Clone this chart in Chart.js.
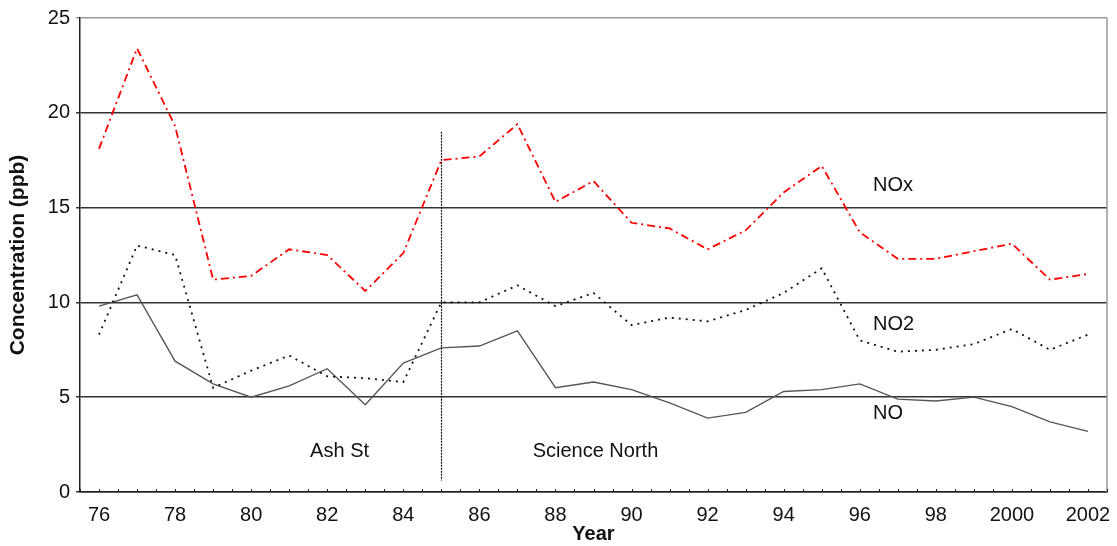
<!DOCTYPE html>
<html>
<head>
<meta charset="utf-8">
<script src="https://cdn.jsdelivr.net/npm/chart.js@4"></script>
<style>
  html, body { margin: 0; padding: 0; background: #fff; }
  #wrap { width: 1117px; height: 546px; }
</style>
</head>
<body>
<div id="wrap"><canvas id="chart" width="1117" height="546"></canvas></div>
<script>
// ===== NOx / NO2 / NO annual means =====
const years = ["76","77","78","79","80","81","82","83","84","85","86","87","88","89",
  "90","91","92","93","94","95","96","97","98","99","2000","2001","2002"];

const noxValues = [18.1, 23.4, 19.3, 11.2, 11.4, 12.8, 12.5, 10.6, 12.6, 17.5, 17.7, 19.4, 15.3, 16.4,
  14.2, 13.9, 12.8, 13.8, 15.8, 17.2, 13.7, 12.3, 12.3, 12.7, 13.1, 11.2, 11.5];
const no2Values = [8.3, 13.0, 12.5, 5.5, 6.4, 7.2, 6.1, 6.0, 5.8, 10.0, 10.0, 10.9, 9.8, 10.5,
  8.8, 9.2, 9.0, 9.6, 10.5, 11.8, 8.0, 7.4, 7.5, 7.8, 8.6, 7.5, 8.3];
const noValues = [9.8, 10.4, 6.9, 5.7, 5.0, 5.6, 6.5, 4.6, 6.8, 7.6, 7.7, 8.5, 5.5, 5.8,
  5.4, 4.7, 3.9, 4.2, 5.3, 5.4, 5.7, 4.9, 4.8, 5.0, 4.5, 3.7, 3.2];

// text labels placed in data coordinates (x = category index)
const noteTexts = ["NOx", "NO2", "NO", "Ash St", "Science North"];
const noteX = [20.35, 20.35, 20.35, 5.55, 11.4];
const noteY = [16.15, 8.85, 4.15, 2.15, 2.15];

// station change marker (Ash St -> Science North)
const stationChangeIndex = 9;
const stationLineTop = 19.0;
const stationLineBottom = 0.6;

const FONT = "'Liberation Sans', Arial, sans-serif";

// extra drawing: right frame, small inward x ticks, station line, labels
const extrasPlugin = {
  id: "extras",
  afterDatasetsDraw(chart) {
    const { ctx, chartArea: a, scales: { x, y } } = chart;
    ctx.save();

    // right border
    ctx.strokeStyle = "#999";
    ctx.lineWidth = 1.5;
    ctx.beginPath();
    ctx.moveTo(a.right, a.top);
    ctx.lineTo(a.right, a.bottom);
    ctx.stroke();

    // small ticks on the x axis (every half year)
    ctx.strokeStyle = "#222";
    ctx.lineWidth = 1;
    ctx.beginPath();
    for (let i = -0.5; i <= years.length - 0.5; i += 0.5) {
      const px = Math.round(x.getPixelForValue(i)) + 0.5;
      ctx.moveTo(px, a.bottom);
      ctx.lineTo(px, a.bottom - 3);
    }
    ctx.stroke();

    // vertical dotted line at station change
    const sx = Math.round(x.getPixelForValue(stationChangeIndex)) + 0.5;
    ctx.strokeStyle = "#111";
    ctx.lineWidth = 1.2;
    ctx.setLineDash([2, 1]);
    ctx.beginPath();
    ctx.moveTo(sx, y.getPixelForValue(stationLineTop));
    ctx.lineTo(sx, y.getPixelForValue(stationLineBottom));
    ctx.stroke();
    ctx.setLineDash([]);

    // labels
    ctx.fillStyle = "#111";
    ctx.font = "20px " + FONT;
    ctx.textAlign = "left";
    ctx.textBaseline = "middle";
    noteTexts.forEach((t, i) => {
      ctx.fillText(t, x.getPixelForValue(noteX[i]), y.getPixelForValue(noteY[i]));
    });
    ctx.restore();
  }
};

const ctx = document.getElementById("chart");
new Chart(ctx, {
  type: "line",
  data: {
    labels: years,
    datasets: [
      {
        label: "NOx",
        data: noxValues,
        borderColor: "#ff0000",
        borderWidth: 1.8,
        borderDash: [8, 4, 2, 4],
        pointRadius: 0,
        tension: 0,
        fill: false
      },
      {
        label: "NO2",
        data: no2Values,
        borderColor: "#111",
        borderWidth: 1.8,
        borderDash: [2, 5],
        pointRadius: 0,
        tension: 0,
        fill: false
      },
      {
        label: "NO",
        data: noValues,
        borderColor: "#555",
        borderWidth: 1.3,
        pointRadius: 0,
        tension: 0,
        fill: false
      }
    ]
  },
  options: {
    responsive: false,
    animation: false,
    layout: { padding: { top: 18, right: 10, left: 0, bottom: 0 } },
    plugins: {
      legend: { display: false },
      tooltip: { enabled: false }
    },
    scales: {
      x: {
        type: "category",
        offset: true,
        grid: { display: false, drawTicks: false },
        border: { display: true, color: "#222", width: 1.5 },
        ticks: {
          autoSkip: false,
          maxRotation: 0,
          padding: 11,
          color: "#111",
          font: { size: 20, family: FONT },
          callback: (v, i) => (i % 2 === 0 ? years[i] : "")
        },
        title: {
          display: true,
          text: "Year",
          color: "#111",
          font: { size: 20, weight: "bold", family: FONT },
          padding: { top: 0, bottom: 0 }
        },
        afterFit: (s) => { s.height = 54; s.paddingRight = 0; s.paddingLeft = 0; }
      },
      y: {
        min: 0,
        max: 25,
        ticks: {
          stepSize: 5,
          padding: 6,
          color: "#111",
          font: { size: 20, family: FONT }
        },
        grid: {
          color: (c) => (c.tick && c.tick.value === 25 ? "#999" : "#333"),
          lineWidth: 1.5,
          tickLength: 4
        },
        border: { display: true, color: "#222", width: 1.5 },
        title: {
          display: true,
          text: "Concentration (ppb)",
          color: "#111",
          font: { size: 21, weight: "bold", family: FONT },
          padding: { top: 6, bottom: 0 }
        },
        afterFit: (s) => { s.width = 80; }
      }
    }
  },
  plugins: [extrasPlugin]
});
</script>
</body>
</html>
